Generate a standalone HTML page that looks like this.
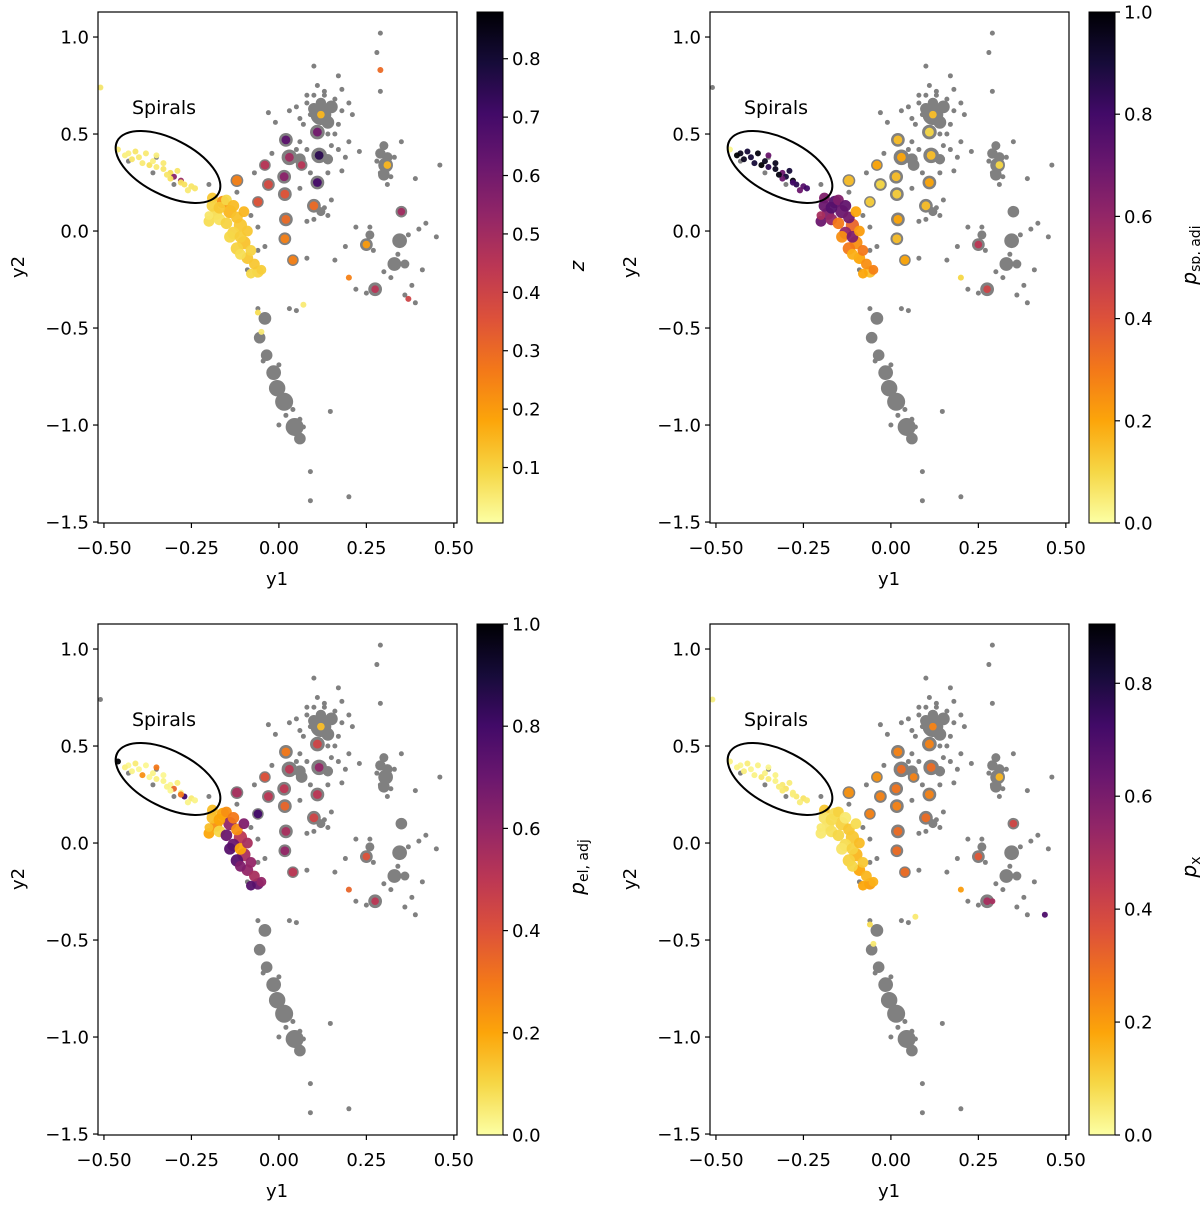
<!DOCTYPE html>
<html><head><meta charset="utf-8">
<style>
html,body{margin:0;padding:0;background:#fff;}
svg{display:block;font-family:"DejaVu Sans","Liberation Sans",sans-serif;}
</style></head>
<body>
<svg id="fig" width="1200" height="1205" viewBox="0 0 1200 1205" xmlns="http://www.w3.org/2000/svg">
<defs>
<linearGradient id="infr" x1="0" y1="1" x2="0" y2="0">
<stop offset="0" stop-color="#fcffa4"/><stop offset="0.1" stop-color="#f6d746"/>
<stop offset="0.2" stop-color="#fca50a"/><stop offset="0.3" stop-color="#f37819"/>
<stop offset="0.4" stop-color="#dd513a"/><stop offset="0.5" stop-color="#bc3754"/>
<stop offset="0.6" stop-color="#932667"/><stop offset="0.7" stop-color="#6a176e"/>
<stop offset="0.8" stop-color="#420a68"/><stop offset="0.9" stop-color="#160b39"/>
<stop offset="1" stop-color="#000004"/>
</linearGradient>
</defs>
</svg>
<script>
// ---- data ----
const xTicks = [-0.5, -0.25, 0, 0.25, 0.5];
const xTickLabels = ["\u22120.50", "\u22120.25", "0.00", "0.25", "0.50"];
const yTicks = [1.0, 0.5, 0.0, -0.5, -1.0, -1.5];
const yTickLabels = ["1.0", "0.5", "0.0", "\u22120.5", "\u22121.0", "\u22121.5"];

// grey clusters (centre x, centre y, galaxy count)
const greyBlobX = [0.12,0.15,0.12,0.14,0.11,0.115,0.11,0.10,0.12,0.02,0.03,0.06,0.015,0.017,0.02,0.017,0.04,-0.03,-0.06,-0.04,-0.12,0.065,0.305,0.29,0.30,0.35,0.345,0.33,0.36,0.25,0.26,0.275,-0.04,-0.055,-0.035,-0.015,-0.005,0.015,0.045,0.06,0.30,0.31,0.10,0.14];
const greyBlobY = [0.60,0.64,0.66,0.56,0.51,0.39,0.25,0.13,0.10,0.47,0.38,0.37,0.28,0.19,0.06,-0.04,-0.15,0.24,0.15,0.34,0.26,0.34,0.34,0.40,0.44,0.10,-0.05,-0.17,-0.17,-0.07,-0.02,-0.30,-0.45,-0.55,-0.64,-0.73,-0.81,-0.88,-1.01,-1.07,0.29,0.38,0.63,0.37];
const greyBlobN = [16,6,4,6,8,9,7,7,3,7,9,5,7,7,7,6,5,6,5,5,6,5,8,4,3,5,8,7,3,6,3,7,6,5,5,8,10,12,12,5,5,4,5,4];

// isolated grey points
const greyX = [0.29,0.28,0.29,0.46,0.147,0.09,0.09,0.20,0.05,-0.06,0.03,0.10,0.17,0.18,0.11,0.05,-0.03,-0.01,0.06,0.03,0.16,0.17,0.15,0.14,0.15,0.14,0.13,0.18,0.23,0.35,0.39,0.40,0.42,0.45,0.22,0.26,0.19,0.30,0.41,0.38,0.36,0.39,0.22,0.25,-0.08,-0.06,-0.04,-0.06,0.08,-0.09,-0.12,-0.20,0.06,0.16,-0.045,0.0,-0.43,-0.36,-0.30,-0.35,0.0,0.04,0.06,0.07,-0.01,0.02,0.08,0.10,-0.51,0.20,0.21,0.13,0.08,
 0.08,0.10,0.13,0.16,0.07,0.09,0.18,0.20,0.14,0.06,0.08,0.19,0.17,0.29,0.32,0.28,0.33,0.31,0.27,0.34,0.37,0.32,-0.02,0.05,0.09,-0.07];
const greyY = [1.02,0.92,0.72,0.34,-0.93,-1.24,-1.39,-1.37,-0.41,-0.40,-0.40,0.85,0.80,0.73,0.75,0.64,0.61,0.56,0.58,0.62,0.50,0.55,0.44,0.30,0.16,0.08,0.12,0.31,0.41,0.46,0.27,0.01,0.04,-0.03,0.02,0.02,-0.08,-0.21,-0.20,-0.28,-0.33,-0.37,-0.30,-0.32,0.08,0.02,-0.08,-0.10,-0.14,-0.20,0.20,0.24,0.22,-0.15,-0.67,-0.69,0.36,0.30,0.24,0.38,-1.00,-0.92,-0.97,-1.01,-0.80,-0.95,0.05,0.06,0.74,0.46,0.60,0.70,0.70,
 0.66,0.70,0.72,0.68,0.55,0.60,0.62,0.66,0.50,0.46,0.42,0.38,0.42,0.30,0.28,0.36,0.38,0.24,-0.10,-0.12,-0.02,-0.24,0.40,0.42,0.30,0.30];

// coloured sources (position, count) + value per panel (null = not shown)
const colX = [-0.46,-0.43,-0.41,-0.38,-0.35,-0.42,-0.39,-0.37,-0.35,-0.33,-0.31,-0.30,-0.28,-0.27,-0.25,-0.26,-0.33,-0.29,-0.31,-0.24,
 -0.16,-0.18,-0.14,-0.11,-0.13,-0.10,-0.12,-0.09,-0.06,-0.20,-0.19,
 -0.03,-0.06,-0.04,-0.12,0.02,0.03,0.015,0.017,0.02,0.017,0.04,0.11,0.115,0.11,0.10,0.065,0.12,0.31,0.35,0.25,0.275,
 0.29,0.20,0.37,0.07,-0.05,-0.06,-0.51,0.44,0.29,
 -0.19,-0.17,-0.15,-0.13,-0.17,-0.15,-0.12,-0.10,-0.14,-0.11,-0.09,-0.08,-0.11,-0.07,-0.08,-0.05,-0.20,-0.36,-0.40,-0.44,-0.32,-0.28];
const colY = [0.42,0.40,0.41,0.40,0.39,0.37,0.35,0.34,0.33,0.32,0.30,0.28,0.26,0.24,0.23,0.21,0.35,0.31,0.27,0.22,
 0.15,0.09,0.10,0.03,-0.01,-0.06,-0.09,-0.14,-0.21,0.05,0.17,
 0.24,0.15,0.34,0.26,0.47,0.38,0.28,0.19,0.06,-0.04,-0.15,0.51,0.39,0.25,0.13,0.34,0.60,0.34,0.10,-0.07,-0.30,
 0.83,-0.24,-0.35,-0.38,-0.52,-0.42,0.74,-0.37,-0.30,
 0.13,0.12,0.16,0.13,0.06,0.04,0.07,0.10,-0.03,-0.03,0.00,-0.10,-0.12,-0.17,-0.22,-0.20,0.08,0.36,0.38,0.39,0.29,0.25];
const colN = [1,1,1,1,1,1,1,1,1,1,1,1,1,1,2,2,1,1,1,2,
 8,8,9,9,8,9,8,7,7,6,6,
 4,4,4,5,4,4,4,4,4,4,4,4,4,4,4,3,3,3,3,3,3,
 1,1,1,1,1,1,1,1,1,
 7,7,6,7,7,7,7,6,7,7,6,6,6,6,5,5,4,1,1,1,1,2];
const zVals = [0.05,0.04,0.06,0.05,0.04,0.06,0.05,0.07,0.05,0.06,0.08,0.55,0.52,0.07,0.06,0.05,0.05,0.06,0.07,0.06,
 0.22,0.08,0.15,0.12,0.10,0.13,0.10,0.12,0.10,0.08,0.12,
 0.38,0.35,0.45,0.25,0.65,0.50,0.55,0.35,0.30,0.25,0.25,0.60,0.75,0.70,0.30,0.45,0.15,0.15,0.50,0.20,0.45,
 0.30,0.25,0.40,0.05,0.05,0.08,0.05,null,null,
 0.10,0.12,0.09,0.14,0.07,0.10,0.13,0.15,0.09,0.11,0.12,0.10,0.08,0.12,0.09,0.11,0.06,0.04,0.05,0.04,0.06,0.07];
const spVals = [0.02,0.95,0.90,0.98,0.70,0.95,0.90,1.00,0.85,0.95,0.70,0.90,1.00,0.85,0.75,0.70,0.95,0.90,0.70,0.80,
 0.75,0.65,0.70,0.35,0.60,0.25,0.30,0.20,0.15,0.70,0.65,
 0.10,0.12,0.20,0.15,0.15,0.20,0.15,0.12,0.20,0.15,0.20,0.10,0.15,0.20,0.15,null,0.15,0.10,null,0.50,0.45,
 null,0.10,null,null,null,null,null,null,null,
 0.70,0.75,0.65,0.72,0.60,0.30,0.68,0.20,0.25,0.65,0.22,0.30,0.18,0.25,0.20,0.28,0.55,0.95,0.90,1.00,0.98,0.80];
const elVals = [1.00,0.02,0.05,0.02,0.30,0.03,0.25,0.02,0.04,0.03,0.02,0.35,0.02,0.80,0.05,0.03,0.02,0.04,0.02,0.03,
 0.20,0.25,0.60,0.50,0.70,0.55,0.75,0.60,0.70,0.20,0.15,
 0.50,0.80,0.40,0.55,0.30,0.50,0.50,0.35,0.55,0.60,0.50,0.45,0.60,0.50,0.45,null,0.15,null,null,0.40,0.50,
 null,0.35,null,null,null,null,null,null,null,
 0.15,0.20,0.25,0.30,0.10,0.70,0.25,0.65,0.75,0.20,0.55,0.60,0.65,0.55,0.75,0.60,0.15,0.03,0.02,0.04,0.03,0.30];
const pxVals = [0.03,0.02,0.04,0.03,0.02,0.04,0.03,0.05,0.04,0.03,0.05,0.06,0.04,0.05,0.06,0.04,0.03,0.04,0.05,0.05,
 0.08,0.06,0.10,0.12,0.08,0.15,0.10,0.18,0.20,0.05,0.12,
 0.25,0.25,0.22,0.22,0.25,0.30,0.28,0.25,0.30,0.30,0.30,0.25,0.30,0.25,0.30,0.25,0.25,0.15,0.40,0.35,0.50,
 null,0.20,null,0.05,0.05,0.08,0.03,0.70,0.50,
 0.06,0.08,0.10,0.05,0.07,0.09,0.12,0.08,0.06,0.10,0.14,0.12,0.09,0.15,0.18,0.16,0.05,0.03,0.02,0.03,0.04,0.04];

const cbTicksZ = [0.1,0.2,0.3,0.4,0.5,0.6,0.7,0.8];
const cbTicksP = [0.0,0.2,0.4,0.6,0.8,1.0];
const cbTicksX = [0.0,0.2,0.4,0.6,0.8];

// ---- drawing ----
const NS = "http://www.w3.org/2000/svg";
const svg = document.getElementById("fig");
const AX = {l:98, r:457, t:12, b:523};
const xMin = -0.517, xMax = 0.509, yMin = -1.505, yMax = 1.129;
function sx(v){ return AX.l + (v - xMin) / (xMax - xMin) * (AX.r - AX.l); }
function sy(v){ return AX.b - (v - yMin) / (yMax - yMin) * (AX.b - AX.t); }

const stops = ["#fcffa4","#f6d746","#fca50a","#f37819","#dd513a","#bc3754","#932667","#6a176e","#420a68","#160b39","#000004"];
function hex(h){ return [parseInt(h.substr(1,2),16),parseInt(h.substr(3,2),16),parseInt(h.substr(5,2),16)]; }
function cmap(t){
  t = Math.max(0, Math.min(1, t)) * 10;
  const i = Math.min(9, Math.floor(t)), f = t - i;
  const a = hex(stops[i]), b = hex(stops[i+1]);
  return "rgb(" + a.map((c,k)=>Math.round(c + (b[k]-c)*f)).join(",") + ")";
}
function el(tag, attrs, parent){
  const e = document.createElementNS(NS, tag);
  for (const k in attrs) e.setAttribute(k, attrs[k]);
  parent.appendChild(e);
  return e;
}

const panels = [
  {dx:0, dy:0, vals:zVals, vmin:0.005, vmax:0.88, ticks:cbTicksZ, dec:1, label:"z", sub:"", name:"redshift"},
  {dx:612, dy:0, vals:spVals, vmin:0, vmax:1, ticks:cbTicksP, dec:1, label:"p", sub:"sp, adj", name:"spiral-prob"},
  {dx:0, dy:612, vals:elVals, vmin:0, vmax:1, ticks:cbTicksP, dec:1, label:"p", sub:"el, adj", name:"elliptical-prob"},
  {dx:612, dy:612, vals:pxVals, vmin:0, vmax:0.905, ticks:cbTicksX, dec:1, label:"p", sub:"x", name:"artifact-prob"}
];

panels.forEach(function(p){
  const g = el("g", {transform:"translate(" + p.dx + "," + p.dy + ")"}, svg);
  
  

  const plot = el("g", {}, g);
  
  

  for (let i = 0; i < greyBlobX.length; i++){
    const c = el("circle", {cx:sx(greyBlobX[i]), cy:sy(greyBlobY[i]), r:(2.6*Math.sqrt(greyBlobN[i])).toFixed(2), fill:"#808080"}, plot);
    
    
  }
  for (let i = 0; i < greyX.length; i++){
    const c = el("circle", {cx:sx(greyX[i]), cy:sy(greyY[i]), r:2.5, fill:"#808080"}, plot);
    
    
  }
  for (let i = 0; i < colX.length; i++){
    const v = p.vals[i];
    if (v === null || v === undefined) continue;
    const t = (v - p.vmin) / (p.vmax - p.vmin);
    const r = colN[i] > 1 ? 2.2*Math.sqrt(colN[i]) : 3.0;
    const c = el("circle", {cx:sx(colX[i]), cy:sy(colY[i]), r:r.toFixed(2), fill:cmap(t), "fill-opacity":0.95}, plot);
    
    
  }

  const ell = el("ellipse", {cx:168, cy:167, rx:57, ry:28, transform:"rotate(27 168 167)", fill:"none", stroke:"#000", "stroke-width":2}, g);
  
  
  const st = el("text", {x:132, y:114, "font-size":19}, g);
  st.textContent = "Spirals";
  
  

  const fr = el("rect", {x:AX.l, y:AX.t, width:AX.r-AX.l, height:AX.b-AX.t, fill:"none", stroke:"#000", "stroke-width":1.2}, g);
  
  

  xTicks.forEach(function(v, i){
    const x = sx(v);
    el("line", {x1:x, x2:x, y1:AX.b, y2:AX.b+5, stroke:"#000", "stroke-width":1.2}, g);
    const t = el("text", {x:x, y:AX.b+31, "text-anchor":"middle", "font-size":18}, g);
    t.textContent = xTickLabels[i];
    
    
  });
  yTicks.forEach(function(v, i){
    const y = sy(v);
    el("line", {x1:AX.l-5, x2:AX.l, y1:y, y2:y, stroke:"#000", "stroke-width":1.2}, g);
    const t = el("text", {x:AX.l-9, y:y+6.5, "text-anchor":"end", "font-size":18}, g);
    t.textContent = yTickLabels[i];
    
    
  });
  const xl = el("text", {x:277, y:585, "text-anchor":"middle", "font-size":18}, g);
  xl.textContent = "y1";
  
  
  const yl = el("text", {x:0, y:0, "text-anchor":"middle", "font-size":18, transform:"translate(24,267) rotate(-90)"}, g);
  yl.textContent = "y2";
  
  

  const cb = el("rect", {x:477, y:12, width:26, height:511, fill:"url(#infr)", stroke:"#000", "stroke-width":1}, g);
  
  
  p.ticks.forEach(function(v){
    const y = 523 - (v - p.vmin) / (p.vmax - p.vmin) * 511;
    el("line", {x1:503, x2:508, y1:y, y2:y, stroke:"#000", "stroke-width":1.2}, g);
    const t = el("text", {x:512, y:y+6.5, "font-size":18}, g);
    t.textContent = v.toFixed(p.dec);
    
    
  });
  const cl = el("text", {x:0, y:0, "text-anchor":"middle", "font-size":20, "font-style":"italic", transform:"translate(584," + (p.sub ? 255 : 266) + ") rotate(-90)"}, g);
  
  
  cl.appendChild(document.createTextNode(p.label));
  if (p.sub){
    const ts = document.createElementNS(NS, "tspan");
    ts.setAttribute("font-style", "normal");
    ts.setAttribute("font-size", "14");
    ts.setAttribute("dy", "4");
    ts.textContent = p.sub;
    cl.appendChild(ts);
  }
});
</script>
</body></html>
